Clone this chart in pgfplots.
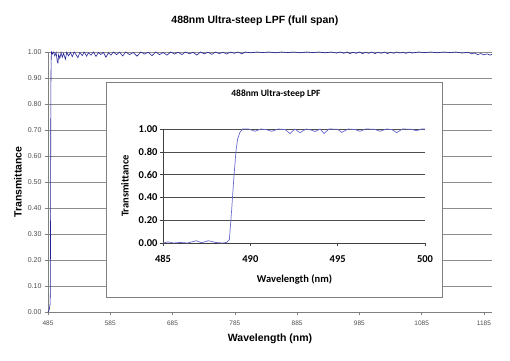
\documentclass[border=0pt]{standalone}
\usepackage{pgfplots}
\pgfplotsset{compat=1.18}
\usepackage{fontspec}
\setmainfont{Liberation Sans}
\newfontfamily\carlito{Carlito}
\definecolor{mainblue}{HTML}{23239A}
\definecolor{insetblue}{HTML}{6A6AD0}
\definecolor{axgray}{HTML}{808080}
\definecolor{gridgray}{HTML}{8C8C8C}
\begin{document}
\begin{tikzpicture}
\useasboundingbox (0,0) rectangle (510pt,360pt);
\begin{axis}[
  at={(48pt,48pt)}, anchor=south west,
  scale only axis, width=444pt, height=260pt,
  xmin=485, xmax=1198, ymin=0, ymax=1,
  axis lines*=left,
  axis line style={axgray, line width=0.8pt},
  xtick={485,585,...,1185},
  ytick={0,0.1,...,1.0},
  ymajorgrids,
  major grid style={gridgray, line width=0.7pt},
  tick style={axgray, line width=0.6pt},
  major tick length=3pt,
  tick align=outside,
  /pgf/number format/assume math mode=true,
  /pgf/number format/set thousands separator={},
  yticklabel style={/pgf/number format/fixed, /pgf/number format/fixed zerofill, /pgf/number format/precision=2, font=\fontsize{7}{8}\selectfont, text=black!70, xshift=0pt},
  xticklabel style={font=\fontsize{6.5}{8}\selectfont, text=black!70, yshift=-2pt},
  title={\bfseries 488nm Ultra-steep LPF (full span)},
  title style={font=\fontsize{10.5}{12}\selectfont, at={(axis description cs:0.466,1.096)}, anchor=center},
  xlabel={\bfseries Wavelength (nm)},
  xlabel style={font=\fontsize{10.5}{12}\selectfont, at={(axis description cs:0.5,-0.104)}, anchor=center},
  ylabel={\bfseries Transmittance},
  ylabel style={font=\fontsize{10.5}{12}\selectfont, at={(axis description cs:-0.0676,0.5)}, anchor=center},
  clip=false,
]
\addplot[mainblue, line width=0.6pt] coordinates {
(485,0.000) (486.5,0.005) (487.5,0.015) (488.3,0.03) (488.8,0.08) (489.2,0.45) (489.6,0.85) (490,0.96) (490.5,1.000)
(492,0.992) (494,1.000) (496,0.985) (498,0.998) (500,0.962) (501,0.958) (502,0.990) (504,0.975) (506,0.998)
(508,0.980) (510,0.995) (513,0.972) (515,0.999) (518,0.985) (521,0.998) (524,0.982) (527,1.000) (530,0.990)
(533,0.978) (536,0.998) (540,0.986) (543,1.000) (547,0.984) (550,0.997) (554,0.988) (558,1.000) (562,0.983)
(566,0.998) (570,0.990) (574,0.999) (578,0.980) (582,0.997) (586,0.988) (590,1.000) (595,0.990) (600,0.999)
(605,0.985) (610,1.000) (616,0.990) (622,0.998) (628,0.984) (634,1.000) (640,0.992) (646,0.999) (652,0.986)
(658,1.000) (664,0.990) (670,0.998) (676,0.988) (682,1.000) (688,0.992) (694,0.999) (700,0.990) (706,1.000)
(712,0.993) (718,0.999) (724,0.988) (730,1.000) (736,0.993) (742,0.999) (748,0.991) (754,1.000) (760,0.994)
(766,0.999) (772,0.992) (778,1.000) (784,0.995) (790,1.000) (796,0.993) (802,1.000) (810,0.997) (820,1.000)
(830,0.998) (840,1.000) (850,0.997) (860,1.000) (870,0.998) (880,1.000) (890,0.997) (900,1.000) (910,0.998)
(920,1.000) (930,0.997) (940,1.000) (948,0.996) (955,1.000) (960,0.995) (965,1.000) (970,0.994) (975,0.999)
(980,0.995) (985,1.000) (990,0.994) (995,0.999) (1000,0.995) (1005,1.000) (1010,0.994) (1015,0.999) (1020,0.995)
(1025,1.000) (1030,0.994) (1035,0.999) (1040,0.995) (1045,1.000) (1050,0.996) (1055,0.999) (1060,0.995)
(1065,1.000) (1070,0.996) (1080,1.000) (1090,0.998) (1100,1.000) (1110,0.997) (1120,1.000) (1130,0.998)
(1140,1.000) (1150,0.996) (1160,0.999) (1165,0.993) (1170,0.996) (1175,0.990) (1180,0.994) (1185,0.989)
(1190,0.993) (1195,0.988) (1198,0.991)
};
\end{axis}
\filldraw[fill=white, draw=axgray, line width=0.8pt] (106pt,63pt) rectangle (442pt,278pt);
\begin{axis}[
  at={(163pt,117pt)}, anchor=south west,
  scale only axis, width=262pt, height=114pt,
  xmin=485, xmax=500, ymin=0, ymax=1,
  axis lines*=left,
  axis line style={black!75, line width=0.7pt},
  xtick={485,490,495,500},
  ytick={0,0.2,...,1.0},
  ymajorgrids,
  major grid style={black!70, line width=0.6pt},
  tick style={black!75, line width=0.6pt},
  major tick length=3pt,
  tick align=outside,
  /pgf/number format/assume math mode=true,
  yticklabel style={/pgf/number format/fixed, /pgf/number format/fixed zerofill, /pgf/number format/precision=2, font=\carlito\bfseries\fontsize{10.5}{12}\selectfont, xshift=1pt},
  xticklabel style={font=\carlito\bfseries\fontsize{10.5}{12}\selectfont, yshift=-6pt},
  title={488nm Ultra-steep LPF},
  title style={font=\carlito\bfseries\fontsize{9.5}{11}\selectfont, at={(axis description cs:0.431,1.254)}, anchor=center},
  xlabel={Wavelength (nm)},
  xlabel style={font=\carlito\bfseries\fontsize{10.5}{12}\selectfont, at={(axis description cs:0.502,-0.316)}, anchor=center},
  ylabel={Transmittance},
  ylabel style={font=\carlito\bfseries\fontsize{10.5}{12}\selectfont, at={(axis description cs:-0.145,0.5)}, anchor=center},
  clip=false,
]
\addplot[insetblue, line width=0.7pt] coordinates {
(485.0,0.000) (485.3,0.010) (485.6,0.000) (486.0,0.005) (486.4,0.000) (486.9,0.020) (487.2,0.002)
(487.6,0.020) (488.0,0.005) (488.4,0.000) (488.65,0.005) (488.8,0.030) (488.93,0.290) (489.06,0.580)
(489.18,0.810) (489.27,0.910) (489.4,0.970) (489.56,1.000) (489.9,1.000) (490.27,0.980) (490.6,1.000)
(490.9,0.995) (491.22,0.980) (491.6,1.000) (492.0,0.995) (492.27,0.960) (492.55,1.000) (492.84,0.968)
(493.2,1.000) (493.5,0.990) (493.70,0.978) (494.0,1.000) (494.22,0.960) (494.5,1.000) (495.0,0.998)
(495.23,0.970) (495.6,1.000) (496.0,0.995) (496.28,0.980) (496.6,1.000) (497.1,0.998) (497.42,0.980)
(497.8,1.000) (498.1,0.995) (498.38,0.968) (498.7,1.000) (499.2,0.998) (499.52,0.985) (499.8,1.000)
(500.0,1.000)
};
\end{axis}
\end{tikzpicture}
\end{document}
